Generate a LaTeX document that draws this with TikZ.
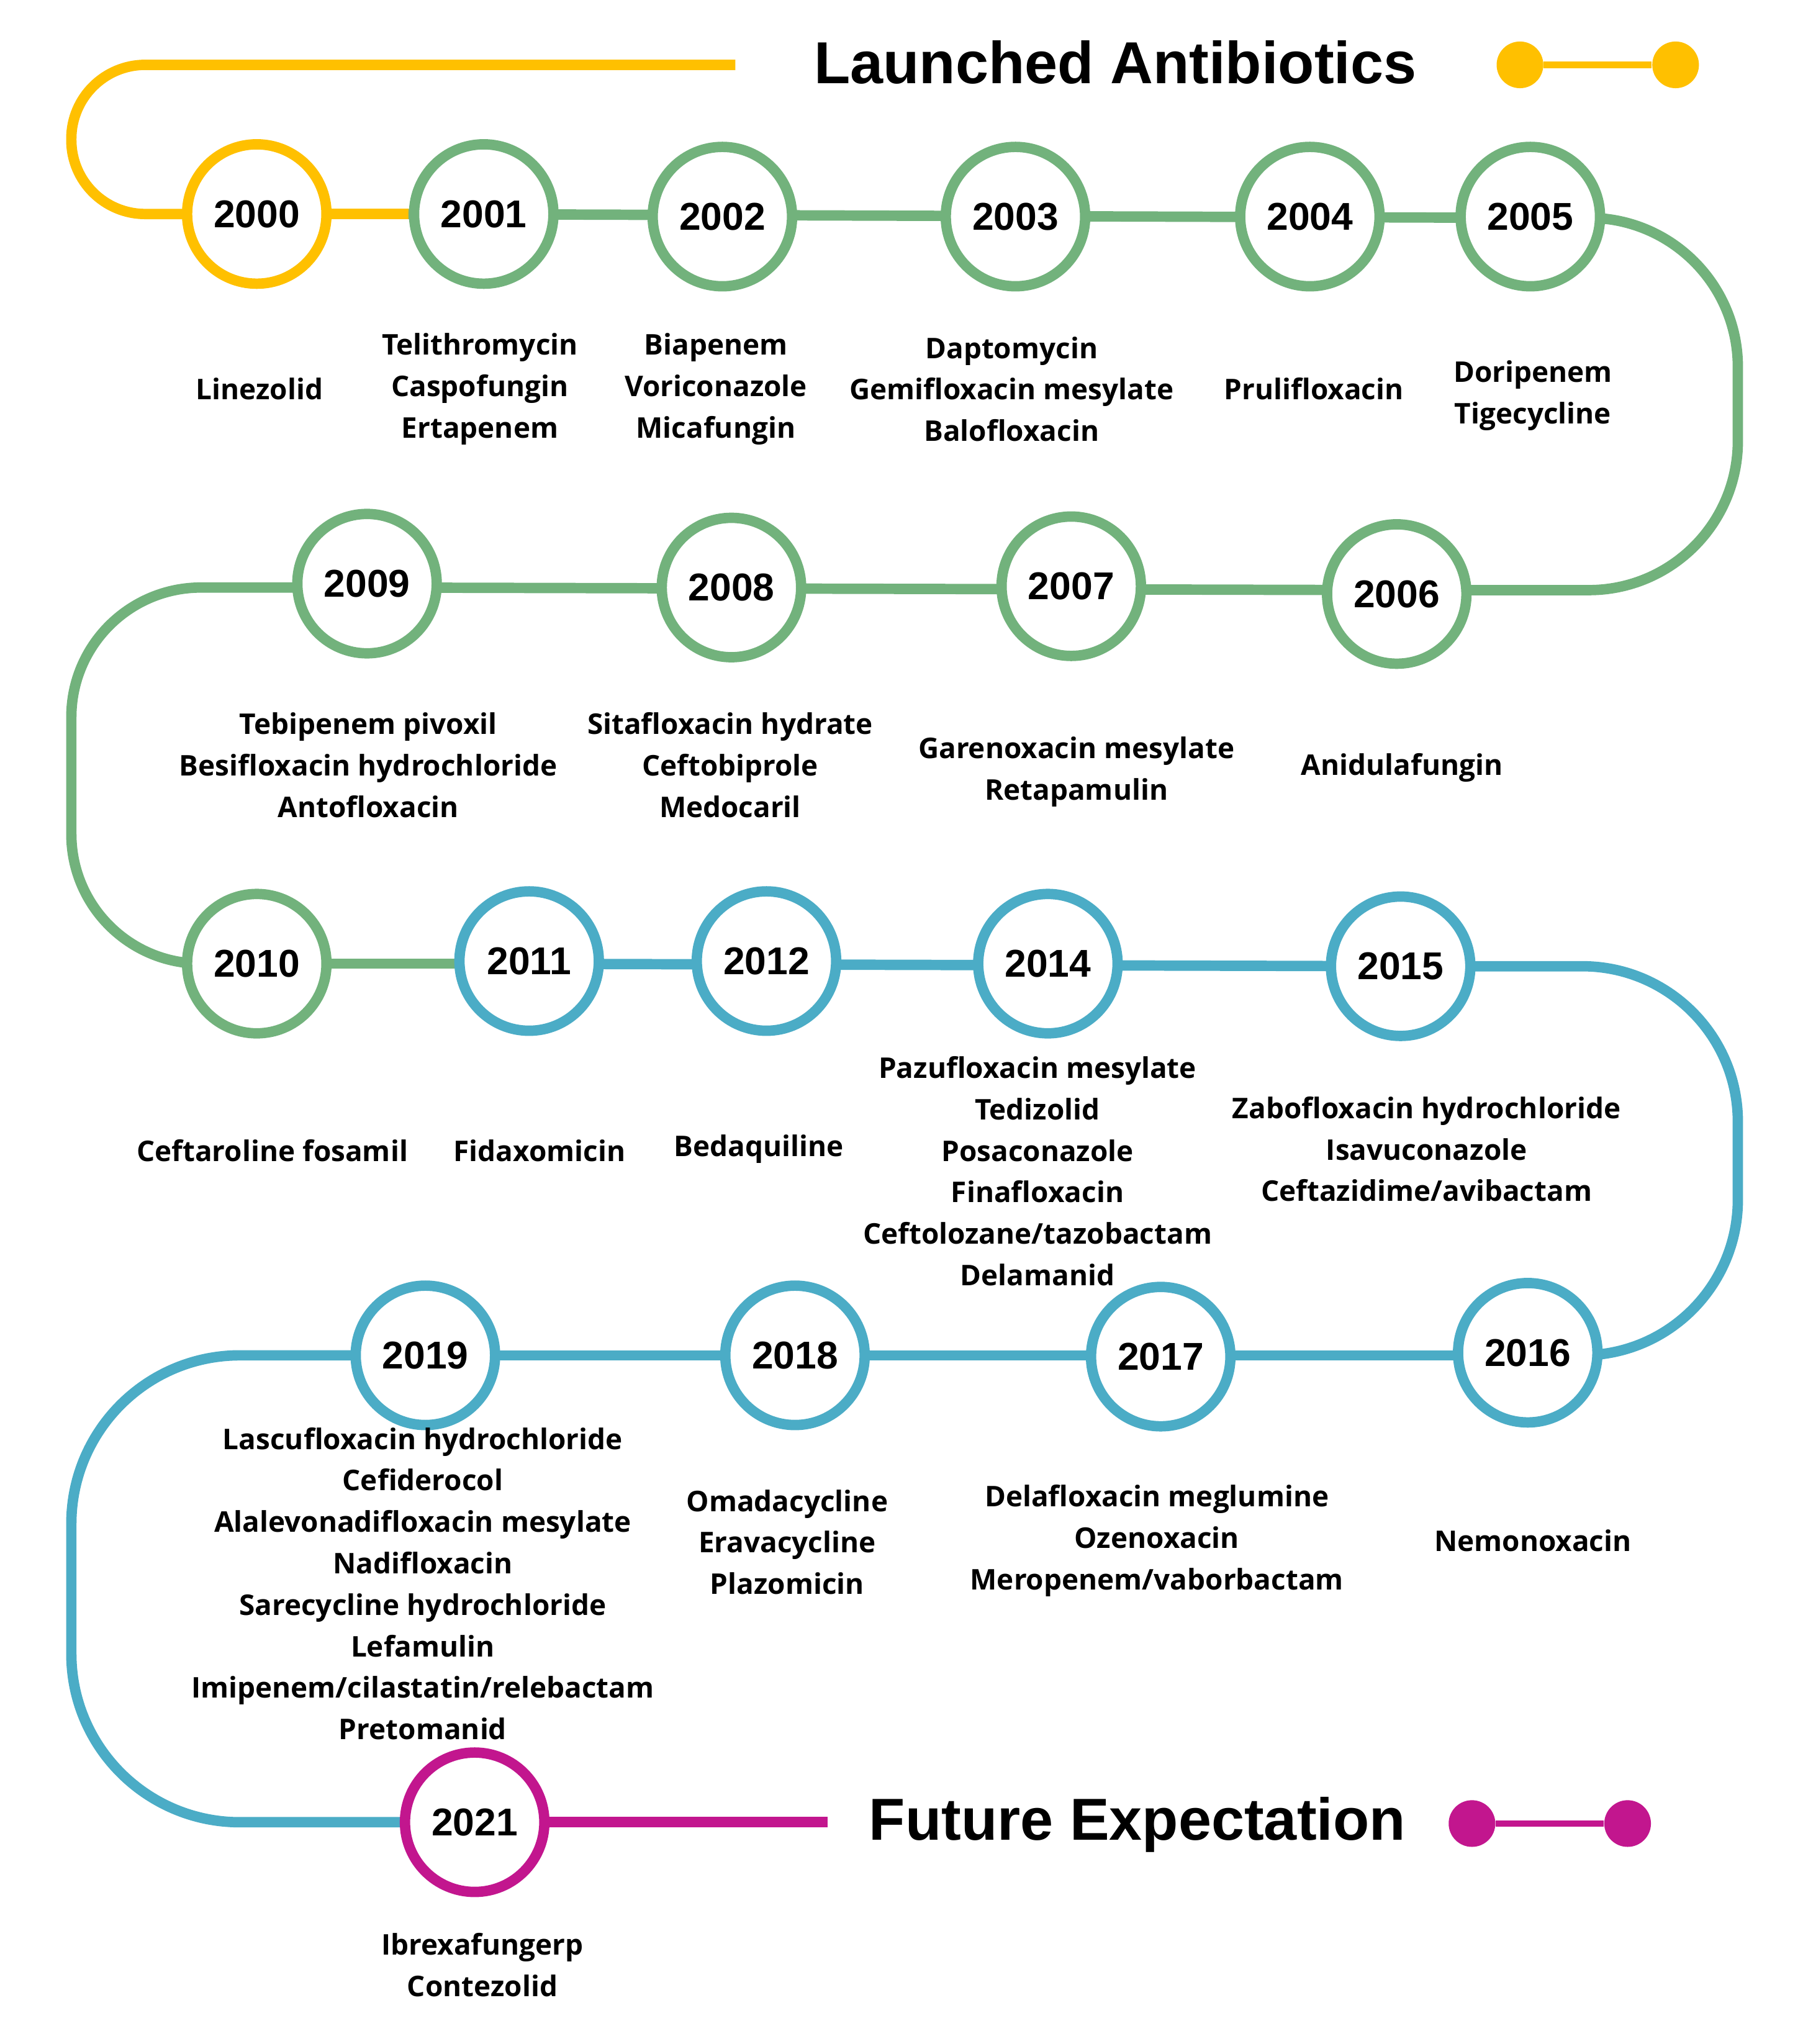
\documentclass[tikz,border=0pt]{standalone}
\usepackage{fontspec}
\setmainfont{Open Sans}
\newfontfamily\yrfont{Liberation Sans}
\definecolor{cY}{HTML}{FFC000}
\definecolor{cG}{HTML}{72B27C}
\definecolor{cB}{HTML}{4BACC6}
\definecolor{cM}{HTML}{C2168E}
\begin{document}
\begin{tikzpicture}[x=0.02cm,y=-0.02cm,
  yr/.style={circle,draw=#1,line width=0.16cm,fill=white,minimum size=2.15cm,inner sep=0pt,font=\yrfont\fontsize{17}{17}\selectfont\bfseries},
  ln/.style={draw=#1,line width=0.16cm},
  lab/.style={align=center,font=\fontsize{12.5}{18.2}\selectfont\bfseries},
  ttl/.style={font=\yrfont\fontsize{26}{26}\selectfont\bfseries},
  dot/.style={circle,fill=#1,minimum size=0.72cm,inner sep=0pt}]
\useasboundingbox (0,0) rectangle (1390,1576);
% coordinates
\coordinate (ya) at (567,50);
\coordinate (yb) at (55,50);
\coordinate (yc) at (55,165);
\coordinate (ga) at (1340,168);
\coordinate (gb) at (1340,455);
\coordinate (gc) at (55,453);
\coordinate (gd) at (55,743);
\coordinate (ba) at (1340,745);
\coordinate (bb) at (1340,1045);
\coordinate (bc) at (55,1045);
\coordinate (bd) at (55,1405);
\coordinate (ma) at (638,1405);
% lines
\draw[ln=cY,rounded corners=1.14cm] (ya) -- (yb) -- (yc) -- (198,165);
\draw[ln=cY] (198,165) -- (315,165);
\draw[ln=cG] (315,165) -- (1180,168);
\draw[ln=cG,rounded corners=2.3cm] (1180,168) -- (ga) -- (gb) -- (1077,455);
\draw[ln=cG] (1077,455) -- (283,453);
\draw[ln=cG,rounded corners=2cm] (283,453) -- (gc) -- (gd) -- (198,743);
\draw[ln=cG] (198,743) -- (360,743);
\draw[ln=cB] (360,743) -- (1080,745);
\draw[ln=cB,rounded corners=2.4cm] (1080,745) -- (ba) -- (bb) -- (1178,1045);
\draw[ln=cB] (1178,1045) -- (328,1045);
\draw[ln=cB,rounded corners=2.6cm] (328,1045) -- (bc) -- (bd) -- (366,1405);
\draw[ln=cM] (366,1405) -- (ma);
% year nodes
\node[yr=cY] (y2000) at (198,165) {2000};
\node[yr=cG] (y2001) at (373,165) {2001};
\node[yr=cG] (y2002) at (557,167) {2002};
\node[yr=cG] (y2003) at (783,167) {2003};
\node[yr=cG] (y2004) at (1010,167) {2004};
\node[yr=cG] (y2005) at (1180,167) {2005};
\node[yr=cG] (y2006) at (1077,458) {2006};
\node[yr=cG] (y2007) at (826,452) {2007};
\node[yr=cG] (y2008) at (564,453) {2008};
\node[yr=cG] (y2009) at (283,450) {2009};
\node[yr=cG] (y2010) at (198,743) {2010};
\node[yr=cB] (y2011) at (408,741) {2011};
\node[yr=cB] (y2012) at (591,741) {2012};
\node[yr=cB] (y2014) at (808,743) {2014};
\node[yr=cB] (y2015) at (1080,745) {2015};
\node[yr=cB] (y2016) at (1178,1043) {2016};
\node[yr=cB] (y2017) at (895,1046) {2017};
\node[yr=cB] (y2018) at (613,1045) {2018};
\node[yr=cB] (y2019) at (328,1045) {2019};
\node[yr=cM] (y2021) at (366,1405) {2021};
% titles
\node[ttl] (t1) at (860,48) {Launched Antibiotics};
\node[dot=cY] (d1) at (1172,50) {};
\node[dot=cY] (d2) at (1292,50) {};
\draw[ln=cY,line width=0.1cm] (d1) -- (d2);
\node[ttl] (t2) at (877,1407) {Future Expectation};
\node[dot=cM] (d3) at (1135,1406) {};
\node[dot=cM] (d4) at (1255,1406) {};
\draw[ln=cM,line width=0.1cm] (d3) -- (d4);
% labels
\node[lab] (l2000) at (200,300) {Linezolid};
\node[lab] (l2001) at (370,300) {Telithromycin\\Caspofungin\\Ertapenem};
\node[lab] (l2002) at (552,300) {Biapenem\\Voriconazole\\Micafungin};
\node[lab] (l2003) at (780,300) {Daptomycin\\Gemifloxacin mesylate\\Balofloxacin};
\node[lab] (l2004) at (1013,300) {Prulifloxacin};
\node[lab] (l2005) at (1182,305) {Doripenem\\Tigecycline};
\node[lab] (l2009) at (284,590) {Tebipenem pivoxil\\Besifloxacin hydrochloride\\Antofloxacin};
\node[lab] (l2008) at (563,590) {Sitafloxacin hydrate\\Ceftobiprole\\Medocaril};
\node[lab] (l2007) at (830,595) {Garenoxacin mesylate\\Retapamulin};
\node[lab] (l2006) at (1081,592) {Anidulafungin};
\node[lab] (l2010) at (210,887) {Ceftaroline fosamil};
\node[lab] (l2011) at (416,887) {Fidaxomicin};
\node[lab] (l2012) at (585,886) {Bedaquiline};
\node[lab] (l2014) at (800,903) {Pazufloxacin mesylate\\Tedizolid\\Posaconazole\\Finafloxacin\\Ceftolozane/tazobactam\\Delamanid};
\node[lab] (l2015) at (1100,886) {Zabofloxacin hydrochloride\\Isavuconazole\\Ceftazidime/avibactam};
\node[lab] (l2019) at (326,1221) {Lascufloxacin hydrochloride\\Cefiderocol\\Alalevonadifloxacin mesylate\\Nadifloxacin\\Sarecycline hydrochloride\\Lefamulin\\Imipenem/cilastatin/relebactam\\Pretomanid};
\node[lab] (l2018) at (607,1189) {Omadacycline\\Eravacycline\\Plazomicin};
\node[lab] (l2017) at (892,1188) {Delafloxacin meglumine\\Ozenoxacin\\Meropenem/vaborbactam};
\node[lab] (l2016) at (1182,1188) {Nemonoxacin};
\node[lab] (l2021) at (372,1515) {Ibrexafungerp\\Contezolid};
\end{tikzpicture}
\end{document}
